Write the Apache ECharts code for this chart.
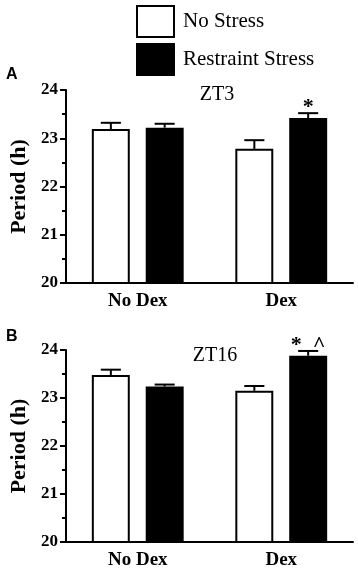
<!DOCTYPE html>
<html>
<head>
    <meta charset="utf-8">
    <title>Period ZT3 / ZT16</title>
    <script src="https://cdn.jsdelivr.net/npm/echarts@6.0.0/dist/echarts.min.js"></script>
    <style>
        html, body { margin: 0; padding: 0; background: #fff; }
    </style>
</head>
<body>
    <div id="main" style="width: 358px; height: 572px;"></div>

    <script>
        const categories = ['No Dex', 'Dex'];
        const groups = ['No Stress', 'Restraint Stress'];
        const panelTitles = ['ZT3', 'ZT16'];
        const panelLetters = ['A', 'B'];

        // ZT3
        const zt3NoStress = [23.19, 22.78];
        const zt3NoStressErr = [0.13, 0.18];
        const zt3Restraint = [23.22, 23.42];
        const zt3RestraintErr = [0.08, 0.10];
        const zt3RestraintMarks = ['', '*'];

        // ZT16
        const zt16NoStress = [23.48, 23.15];
        const zt16NoStressErr = [0.11, 0.10];
        const zt16Restraint = [23.24, 23.88];
        const zt16RestraintErr = [0.04, 0.10];
        const zt16RestraintMarks = ['', '*  ^'];

        const yMin = 20, yMax = 24, yStep = 1;

        const serif = '"Liberation Serif", "Times New Roman", serif';

        const panels = [
            { top: 90, height: 193, vals: [zt3NoStress, zt3Restraint], errs: [zt3NoStressErr, zt3RestraintErr], marks: [['', ''], zt3RestraintMarks] },
            { top: 350, height: 192, vals: [zt16NoStress, zt16Restraint], errs: [zt16NoStressErr, zt16RestraintErr], marks: [['', ''], zt16RestraintMarks] }
        ];

        // bar offset from category centre, as fraction of band width
        const barOffset = 0.1875;

        const grid = [], xAxis = [], yAxis = [], series = [];

        panels.forEach((p, pi) => {
            grid.push({ left: 65, right: 5, top: p.top, height: p.height });
            xAxis.push({
                type: 'category',
                gridIndex: pi,
                data: categories,
                axisLine: { lineStyle: { color: '#000', width: 2 } },
                axisTick: { alignWithLabel: true, length: 6, lineStyle: { color: '#000', width: 2 } },
                axisLabel: { color: '#000', fontFamily: serif, fontWeight: 'bold', fontSize: 19, margin: 9 }
            });
            yAxis.push({
                type: 'value',
                gridIndex: pi,
                min: yMin, max: yMax, interval: yStep,
                name: 'Period (h)',
                nameLocation: 'middle',
                nameRotate: 90,
                nameGap: 36,
                nameTextStyle: { color: '#000', fontFamily: serif, fontWeight: 'bold', fontSize: 22 },
                axisLine: { show: true, lineStyle: { color: '#000', width: 2 } },
                axisTick: { show: true, length: 6, lineStyle: { color: '#000', width: 2 } },
                minorTick: { show: true, splitNumber: 2, length: 4, lineStyle: { color: '#000', width: 2 } },
                splitLine: { show: false },
                axisLabel: { color: '#000', fontFamily: serif, fontWeight: 'bold', fontSize: 17, margin: 8 }
            });

            groups.forEach((g, gi) => {
                series.push({
                    name: g,
                    type: 'bar',
                    xAxisIndex: pi,
                    yAxisIndex: pi,
                    data: p.vals[gi],
                    barGap: '42%',
                    barCategoryGap: '36%',
                    itemStyle: gi === 0
                        ? { color: '#fff', borderColor: '#000', borderWidth: 2 }
                        : { color: '#000', borderColor: '#000', borderWidth: 2 },
                    emphasis: { disabled: true }
                });
            });

            const errData = [];
            groups.forEach((g, gi) => {
                categories.forEach((c, ci) => {
                    errData.push([ci, p.vals[gi][ci], p.errs[gi][ci], gi]);
                });
            });
            const marks = p.marks;

            series.push({
                name: 'err' + pi,
                type: 'custom',
                xAxisIndex: pi,
                yAxisIndex: pi,
                z: 5,
                silent: true,
                data: errData,
                renderItem: (params, api) => {
                    const ci = api.value(0), v = api.value(1), e = api.value(2), gi = api.value(3);
                    const band = api.size([1, 0])[0];
                    const base = api.coord([ci, v]);
                    const top = api.coord([ci, v + e]);
                    const x = base[0] + (gi === 0 ? -1 : 1) * barOffset * band;
                    const cap = band * 0.07;
                    const style = { stroke: '#000', lineWidth: 2 };
                    const children = [
                        { type: 'line', shape: { x1: x, y1: base[1], x2: x, y2: top[1] }, style },
                        { type: 'line', shape: { x1: x - cap, y1: top[1], x2: x + cap, y2: top[1] }, style }
                    ];
                    const m = marks[gi][ci];
                    if (m) {
                        children.push({
                            type: 'text',
                            style: {
                                text: m, x: x, y: top[1] + 5,
                                align: 'center', verticalAlign: 'bottom',
                                fill: '#000', font: 'bold 22px ' + serif
                            }
                        });
                    }
                    return { type: 'group', children };
                }
            });
        });

        const letterFont = '"Liberation Sans", Arial, sans-serif';

        const option = {
            animation: false,
            backgroundColor: '#fff',
            title: [
                { text: panelTitles[0], left: 212, top: 80, textAlign: 'center', textStyle: { color: '#000', fontFamily: serif, fontWeight: 'normal', fontSize: 20 } },
                { text: panelTitles[1], left: 210, top: 341, textAlign: 'center', textStyle: { color: '#000', fontFamily: serif, fontWeight: 'normal', fontSize: 20 } },
                { text: panelLetters[0], left: 1, top: 62, textStyle: { color: '#000', fontFamily: letterFont, fontWeight: 'bold', fontSize: 16 } },
                { text: panelLetters[1], left: 1, top: 324, textStyle: { color: '#000', fontFamily: letterFont, fontWeight: 'bold', fontSize: 16 } }
            ],
            legend: {
                data: groups,
                orient: 'vertical',
                left: 131,
                top: 0,
                icon: 'rect',
                itemWidth: 37,
                itemHeight: 31,
                itemGap: 5,
                selectedMode: false,
                textStyle: { color: '#000', fontFamily: serif, fontSize: 21, padding: [0, 0, 0, 4] }
            },
            grid, xAxis, yAxis, series
        };

        const chart = echarts.init(document.getElementById('main'));
        chart.setOption(option);
    </script>
</body>
</html>
